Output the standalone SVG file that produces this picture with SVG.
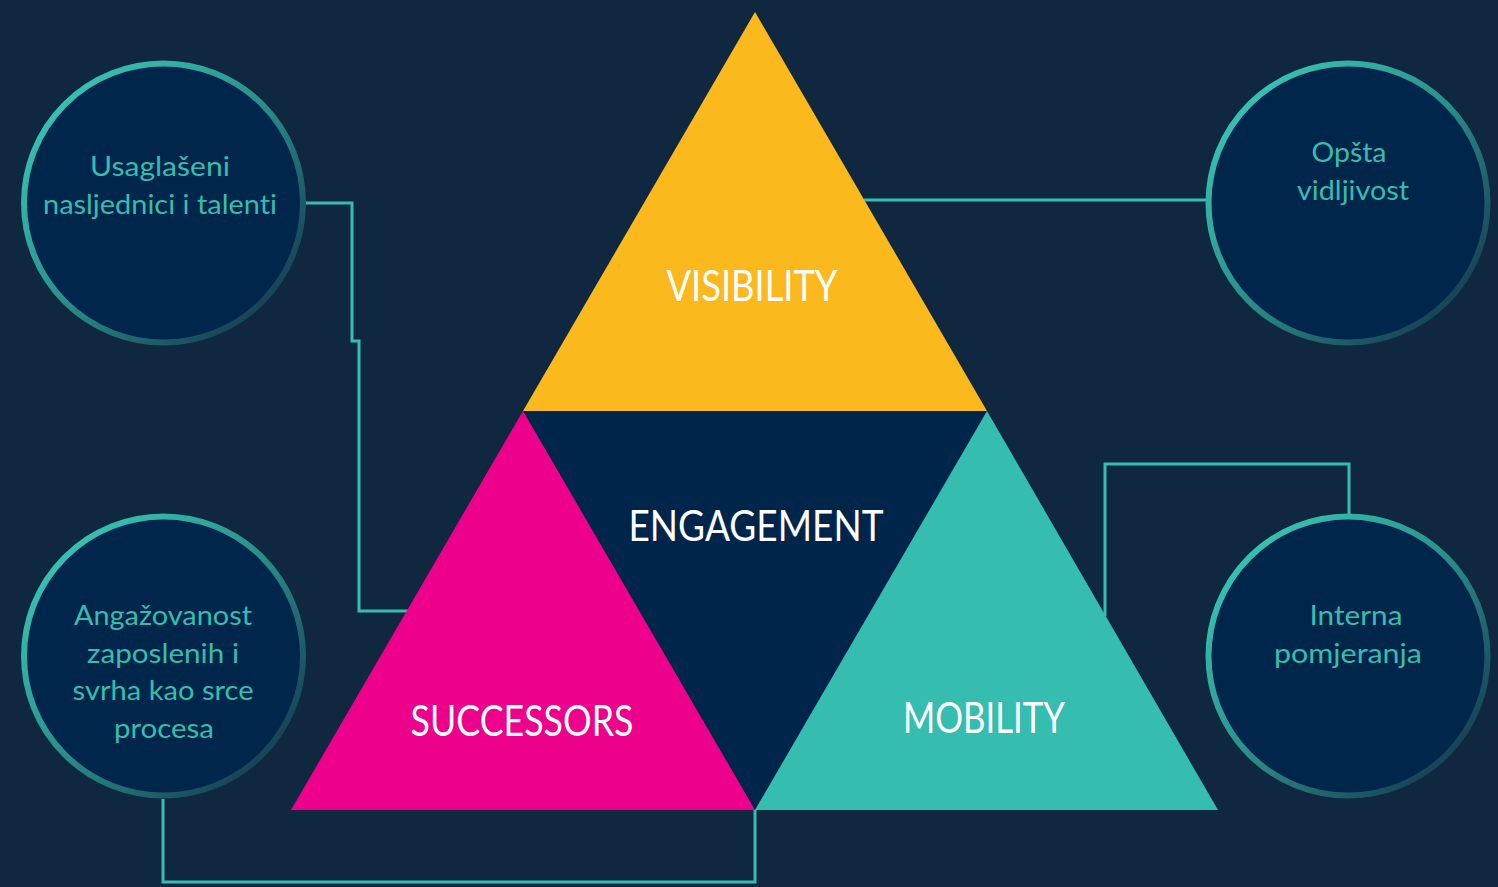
<svg xmlns="http://www.w3.org/2000/svg" width="1498" height="887" viewBox="0 0 1498 887">
  <defs>
    <linearGradient id="ring" x1="0.15" y1="0.15" x2="0.85" y2="0.85">
      <stop offset="0" stop-color="#36BFB0"/>
      <stop offset="0.5" stop-color="#2A8E8A"/>
      <stop offset="1" stop-color="#174659"/>
    </linearGradient>
    <style>
      .bg { fill: #0F2840; }
      .circle { fill: #00264C; stroke: url(#ring); stroke-width: 6; }
      .ctext { font-family: Lato, "Open Sans", sans-serif; font-size: 26px; fill: #35BDAF; text-anchor: middle; font-variant-ligatures: none; }
      .ttext { font-family: Lato, "Open Sans", sans-serif; font-size: 42px; fill: #FFFFFF; text-anchor: middle; font-variant-ligatures: none; }
      .conn { fill: none; stroke: #35BDAF; stroke-width: 3; }
    </style>
  </defs>
  <rect class="bg" x="0" y="0" width="1498" height="887"/>

  <g id="connectors">
    <path class="conn" d="M305,203 H352 V341 H359 V611 H408"/>
    <path class="conn" d="M864,200 H1206"/>
    <path class="conn" d="M1105,616 V464 H1349 V514"/>
    <path class="conn" d="M163,799 V882 H755 V810"/>
  </g>

  <g id="visibility">
    <polygon points="755,12 987,411 523,411" fill="#FBB91D"/>
    <text class="ttext" x="752" y="301" textLength="171" lengthAdjust="spacingAndGlyphs">VISIBILITY</text>
  </g>
  <g id="engagement">
    <polygon points="523,411 987,411 755,810" fill="#00254B"/>
    <text class="ttext" x="756" y="541" textLength="255" lengthAdjust="spacingAndGlyphs">ENGAGEMENT</text>
  </g>
  <g id="successors">
    <polygon points="523,411 755,810 291,810" fill="#EC008C"/>
    <text class="ttext" x="522" y="736" textLength="223" lengthAdjust="spacingAndGlyphs">SUCCESSORS</text>
  </g>
  <g id="mobility">
    <polygon points="987,411 1218,810 755,810" fill="#35BDAF"/>
    <text class="ttext" x="984" y="733" textLength="162" lengthAdjust="spacingAndGlyphs">MOBILITY</text>
  </g>

  <g id="node-usaglaseni">
    <circle class="circle" cx="163.5" cy="203" r="139.5"/>
    <text class="ctext" x="160" y="176" textLength="140" lengthAdjust="spacingAndGlyphs">Usaglašeni</text>
    <text class="ctext" x="160" y="214" textLength="234" lengthAdjust="spacingAndGlyphs">nasljednici i talenti</text>
  </g>
  <g id="node-opsta">
    <circle class="circle" cx="1348" cy="203" r="139.5"/>
    <text class="ctext" x="1349" y="162" textLength="75" lengthAdjust="spacingAndGlyphs">Opšta</text>
    <text class="ctext" x="1353" y="200" textLength="112" lengthAdjust="spacingAndGlyphs">vidljivost</text>
  </g>
  <g id="node-angazovanost">
    <circle class="circle" cx="163.5" cy="656" r="139.5"/>
    <text class="ctext" x="163" y="625" textLength="178" lengthAdjust="spacingAndGlyphs">Angažovanost</text>
    <text class="ctext" x="163" y="663" textLength="152" lengthAdjust="spacingAndGlyphs">zaposlenih i</text>
    <text class="ctext" x="163" y="700" textLength="181" lengthAdjust="spacingAndGlyphs">svrha kao srce</text>
    <text class="ctext" x="164" y="738" textLength="100" lengthAdjust="spacingAndGlyphs">procesa</text>
  </g>
  <g id="node-interna">
    <circle class="circle" cx="1348" cy="656" r="139.5"/>
    <text class="ctext" x="1356" y="625" textLength="93" lengthAdjust="spacingAndGlyphs">Interna</text>
    <text class="ctext" x="1348" y="663" textLength="148" lengthAdjust="spacingAndGlyphs">pomjeranja</text>
  </g>
</svg>
